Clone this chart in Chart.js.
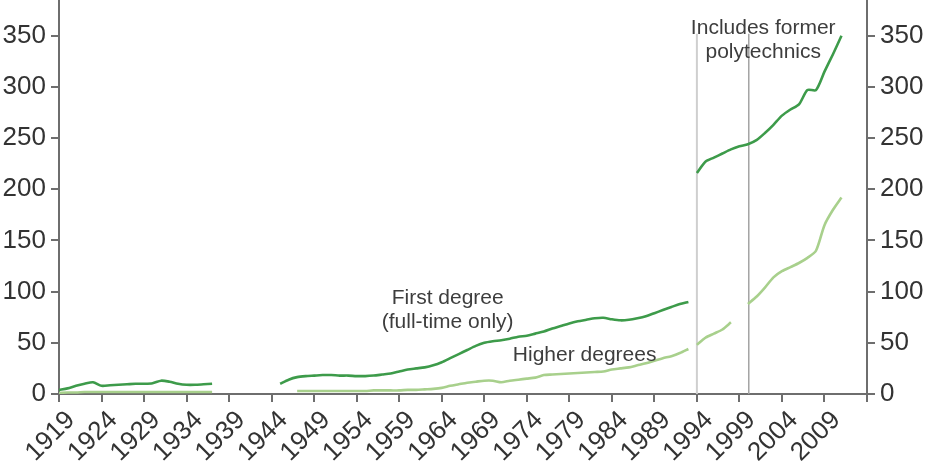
<!DOCTYPE html>
<html>
<head>
<meta charset="utf-8">
<script src="https://cdn.jsdelivr.net/npm/chart.js@4.4.1/dist/chart.umd.min.js"></script>
<style>
html, body { margin: 0; padding: 0; background: #fff; }
#wrap { width: 930px; height: 472px; position: relative; }
</style>
</head>
<body>
<div id="wrap"><canvas id="chart"></canvas></div>
<script>
// years before the 1994 series break
const yearsOld = [1919, 1920, 1921, 1922, 1923, 1924, 1925, 1926, 1927, 1928, 1929,
    1930, 1931, 1932, 1933, 1934, 1935, 1936, 1937, 1938, 1939,
    1940, 1941, 1942, 1943, 1944, 1945, 1946, 1947, 1948, 1949,
    1950, 1951, 1952, 1953, 1954, 1955, 1956, 1957, 1958, 1959,
    1960, 1961, 1962, 1963, 1964, 1965, 1966, 1967, 1968, 1969,
    1970, 1971, 1972, 1973, 1974, 1975, 1976, 1977, 1978, 1979,
    1980, 1981, 1982, 1983, 1984, 1985, 1986, 1987, 1988, 1989,
    1990, 1991, 1992, 1993]
// years including former polytechnics
const yearsNew = [1994, 1995, 1996, 1997, 1998, 1999, 2000, 2001, 2002, 2003,
    2004, 2005, 2006, 2007, 2008, 2009, 2010, 2011]

const firstDegreeOld = [4, 5.5, 8, 10, 11.5, 8, 8.5, 9, 9.5, 10, 10,
    10.5, 13, 12, 10, 9, 9, 9.5, 10, null, null,
    null, null, null, null, null, 10, 14, 16.5, 17.5, 18,
    18.5, 18.5, 18, 18, 17.5, 17.5, 18, 19, 20, 22,
    24, 25, 26, 28, 31, 35, 39, 43, 47, 50,
    51.5, 52.5, 54, 56, 57, 59, 61, 64, 66.5, 69,
    71, 72.5, 74, 74.5, 73, 72, 72.5, 74, 76, 79,
    82, 85, 88, 90]
const higherDegreesOld = [1, 1.5, 1.5, 2, 2, 2, 2, 2, 2, 2, 2,
    2, 2, 2, 2, 2, 2, 2, 2, null, null,
    null, null, null, null, null, null, null, 3, 3, 3,
    3, 3, 3, 3, 3, 3, 3.5, 3.5, 3.5, 3.5,
    4, 4, 4.5, 5, 6, 8, 9.5, 11, 12, 13,
    13, 11.5, 13, 14, 15, 16, 18.5, 19, 19.5, 20,
    20.5, 21, 21.5, 22, 24, 25, 26, 28, 30, 32.5,
    35, 37, 40, 44]
const firstDegreeNew = [216, 227, 231, 235, 239, 242, 244, 248, 255, 263,
    272, 278, 283, 297, 297, 315, 332, 350]
const higherDegreesNew = [48, 55, 59, 63, 70, null, 88, 95, 104, 114,
    120, 124, 128, 133, 140, 165, 180, 192]

const xTicks = [1919, 1924, 1929, 1934, 1939, 1944, 1949, 1954, 1959, 1964, 1969,
    1974, 1979, 1984, 1989, 1994, 1999, 2004, 2009, 2014]
const yTicks = [0, 50, 100, 150, 200, 250, 300, 350]

const darkGreen = "#3d9b4a"
const lightGreen = "#a8d08c"
const axisGrey = "#6e6e6e"
const textGrey = "#333333"
const fontFamily = "'Liberation Sans', Arial, sans-serif"

function points(years, values){
    return years.map((yr, i) => ({x: yr, y: values[i]}))
}

function lineSet(label, years, values, color){
    return {
        label: label,
        data: points(years, values),
        borderColor: color,
        borderWidth: 2.6,
        pointRadius: 0,
        tension: 0.25,
        spanGaps: false
    }
}

// vertical markers for the series break, text notes
const breakLines = [
    {year: 1994, color: "#cfcfcf", width: 2},
    {year: 2000.1, color: "#a3a3a3", width: 1.5}
]
const notes = [
    {lines: ["First degree", "(full-time only)"], year: 1964.7, value: 94},
    {lines: ["Higher degrees"], year: 1980.8, value: 38},
    {lines: ["Includes former", "polytechnics"], year: 2001.8, value: 357}
]

const notesPlugin = {
    id: "notes",
    beforeDatasetsDraw(chart){
        const ctx = chart.ctx
        const x = chart.scales.x, y = chart.scales.y
        ctx.save()
        for(const b of breakLines){
            const px = x.getPixelForValue(b.year)
            ctx.strokeStyle = b.color
            ctx.lineWidth = b.width
            ctx.beginPath()
            ctx.moveTo(px, y.getPixelForValue(352))
            ctx.lineTo(px, y.getPixelForValue(0))
            ctx.stroke()
        }
        ctx.restore()
    },
    afterDraw(chart){
        const ctx = chart.ctx
        const x = chart.scales.x, y = chart.scales.y
        ctx.save()
        ctx.font = "21px " + fontFamily
        ctx.fillStyle = "#3d3d3d"
        ctx.textAlign = "center"
        ctx.textBaseline = "middle"
        for(const n of notes){
            const px = x.getPixelForValue(n.year)
            const py = y.getPixelForValue(n.value)
            n.lines.forEach((t, i) => ctx.fillText(t, px, py + i * 24))
        }
        ctx.restore()
    }
}

function noPadding(s){
    s.paddingTop = 0
    s.paddingBottom = 0
    s.paddingLeft = 0
    s.paddingRight = 0
}

const yAxis = (pos, w) => ({
    type: "linear",
    position: pos,
    min: 0,
    max: 385,
    afterBuildTicks: s => { s.ticks = yTicks.map(v => ({value: v})) },
    afterFit: s => { s.width = w; noPadding(s) },
    ticks: {
        color: textGrey,
        font: {size: 26, family: fontFamily},
        padding: 5
    },
    grid: {drawOnChartArea: false, tickLength: 8, color: axisGrey, lineWidth: 2},
    border: {color: axisGrey, width: 2}
})

new Chart(document.getElementById("chart"), {
    type: "line",
    data: {
        datasets: [
            lineSet("First degree (full-time only)", yearsOld, firstDegreeOld, darkGreen),
            lineSet("Higher degrees", yearsOld, higherDegreesOld, lightGreen),
            lineSet("First degree, incl. former polytechnics", yearsNew, firstDegreeNew, darkGreen),
            lineSet("Higher degrees, incl. former polytechnics", yearsNew, higherDegreesNew, lightGreen)
        ]
    },
    options: {
        responsive: true,
        maintainAspectRatio: false,
        animation: false,
        layout: {padding: 0},
        plugins: {
            legend: {display: false},
            tooltip: {enabled: false}
        },
        scales: {
            x: {
                type: "linear",
                min: 1919,
                max: 2014,
                afterBuildTicks: s => { s.ticks = xTicks.map(v => ({value: v})) },
                afterFit: s => { s.height = 78; noPadding(s) },
                ticks: {
                    autoSkip: false,
                    maxRotation: 45,
                    minRotation: 45,
                    padding: 3,
                    labelOffset: 12,
                    color: textGrey,
                    font: {size: 26, family: fontFamily},
                    callback: v => v == 2014 ? "" : String(v)
                },
                grid: {drawOnChartArea: false, tickLength: 8, color: axisGrey, lineWidth: 2},
                border: {color: axisGrey, width: 2}
            },
            y: yAxis("left", 59),
            y2: yAxis("right", 63)
        }
    },
    plugins: [notesPlugin]
})
</script>
</body>
</html>
